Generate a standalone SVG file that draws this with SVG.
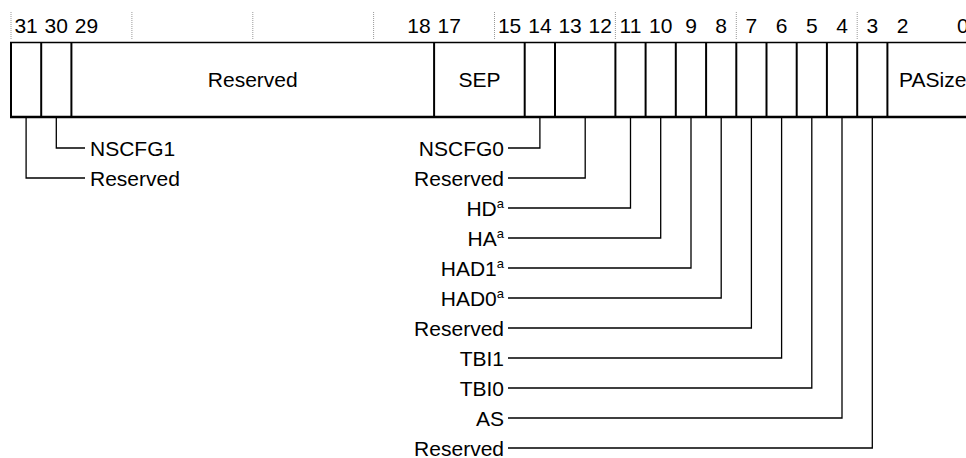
<svg xmlns="http://www.w3.org/2000/svg" width="966" height="458" viewBox="0 0 966 458">
<style>
text{font-family:"Liberation Sans",Arial,Helvetica,sans-serif;font-size:21px;fill:#000}
.c{text-anchor:middle}
.e{text-anchor:end}
.sup{font-size:13px}
.tick{stroke:#999;stroke-width:1;stroke-dasharray:1 1;fill:none}
.div{stroke:#000;stroke-width:2;fill:none}
.conn{stroke:#000;stroke-width:1.3;fill:none}
</style>
<rect width="966" height="458" fill="#fff"/>
<g id="ticks">
<line class="tick" x1="11" y1="12" x2="11" y2="40"/>
<line class="tick" x1="131.9" y1="12" x2="131.9" y2="40"/>
<line class="tick" x1="252.8" y1="12" x2="252.8" y2="40"/>
<line class="tick" x1="373.6" y1="12" x2="373.6" y2="40"/>
<line class="tick" x1="494.5" y1="12" x2="494.5" y2="40"/>
<line class="tick" x1="615.4" y1="12" x2="615.4" y2="40"/>
<line class="tick" x1="736.3" y1="12" x2="736.3" y2="40"/>
<line class="tick" x1="857.2" y1="12" x2="857.2" y2="40"/>
</g>
<g id="bit-numbers">
<text class="c" x="26.1" y="33">31</text>
<text class="c" x="56.3" y="33">30</text>
<text class="c" x="86.5" y="33">29</text>
<text class="c" x="419" y="33">18</text>
<text class="c" x="449.2" y="33">17</text>
<text class="c" x="509.6" y="33">15</text>
<text class="c" x="539.9" y="33">14</text>
<text class="c" x="570.1" y="33">13</text>
<text class="c" x="600.3" y="33">12</text>
<text class="c" x="630.5" y="33">11</text>
<text class="c" x="660.7" y="33">10</text>
<text class="c" x="691" y="33">9</text>
<text class="c" x="721.2" y="33">8</text>
<text class="c" x="751.4" y="33">7</text>
<text class="c" x="781.6" y="33">6</text>
<text class="c" x="811.8" y="33">5</text>
<text class="c" x="842" y="33">4</text>
<text class="c" x="872.3" y="33">3</text>
<text class="c" x="902.5" y="33">2</text>
<text class="c" x="962.9" y="33">0</text>
</g>
<g id="register">
<line x1="10" y1="42.5" x2="980" y2="42.5" stroke="#000" stroke-width="1.6"/>
<line x1="10" y1="117" x2="980" y2="117" stroke="#000" stroke-width="2.6"/>
<g id="f31"><line class="div" x1="11" y1="42" x2="11" y2="117"/></g>
<g id="f30"><line class="div" x1="41.2" y1="42" x2="41.2" y2="117"/></g>
<g id="f29-18"><line class="div" x1="71.4" y1="42" x2="71.4" y2="117"/><text class="c" x="252.8" y="87">Reserved</text></g>
<g id="f17-15"><line class="div" x1="434.1" y1="42" x2="434.1" y2="117"/><text class="c" x="479.4" y="87">SEP</text></g>
<g id="f14"><line class="div" x1="524.7" y1="42" x2="524.7" y2="117"/></g>
<g id="f13-12"><line class="div" x1="555" y1="42" x2="555" y2="117"/></g>
<g id="f11"><line class="div" x1="615.4" y1="42" x2="615.4" y2="117"/></g>
<g id="f10"><line class="div" x1="645.6" y1="42" x2="645.6" y2="117"/></g>
<g id="f9"><line class="div" x1="675.8" y1="42" x2="675.8" y2="117"/></g>
<g id="f8"><line class="div" x1="706.1" y1="42" x2="706.1" y2="117"/></g>
<g id="f7"><line class="div" x1="736.3" y1="42" x2="736.3" y2="117"/></g>
<g id="f6"><line class="div" x1="766.5" y1="42" x2="766.5" y2="117"/></g>
<g id="f5"><line class="div" x1="796.7" y1="42" x2="796.7" y2="117"/></g>
<g id="f4"><line class="div" x1="826.9" y1="42" x2="826.9" y2="117"/></g>
<g id="f3"><line class="div" x1="857.2" y1="42" x2="857.2" y2="117"/></g>
<g id="f2-0"><line class="div" x1="887.4" y1="42" x2="887.4" y2="117"/><text class="c" x="932.7" y="87">PASize</text><line class="div" x1="978" y1="42" x2="978" y2="117"/></g>
</g>
<g id="connectors">
<polyline class="conn" points="26.1,118 26.1,178 85,178"/>
<polyline class="conn" points="56.3,118 56.3,148 85,148"/>
<polyline class="conn" points="508,148 539.9,148 539.9,118"/>
<polyline class="conn" points="508,178 585.2,178 585.2,118"/>
<polyline class="conn" points="508,208 630.5,208 630.5,118"/>
<polyline class="conn" points="508,238 660.7,238 660.7,118"/>
<polyline class="conn" points="508,268 691,268 691,118"/>
<polyline class="conn" points="508,298 721.2,298 721.2,118"/>
<polyline class="conn" points="508,328 751.4,328 751.4,118"/>
<polyline class="conn" points="508,358 781.6,358 781.6,118"/>
<polyline class="conn" points="508,388 811.8,388 811.8,118"/>
<polyline class="conn" points="508,418 842,418 842,118"/>
<polyline class="conn" points="508,448 872.3,448 872.3,118"/>
</g>
<g id="labels">
<g id="l-nscfg1"><text x="90" y="155.5">NSCFG1</text></g>
<g id="l-res31"><text x="90" y="185.5">Reserved</text></g>
<g id="l-nscfg0"><text class="e" x="504" y="155.5">NSCFG0</text></g>
<g id="l-res13"><text class="e" x="504" y="185.5">Reserved</text></g>
<g id="l-hd"><text class="e" x="504" y="215.5">HD<tspan class="sup" dy="-8">a</tspan></text></g>
<g id="l-ha"><text class="e" x="504" y="245.5">HA<tspan class="sup" dy="-8">a</tspan></text></g>
<g id="l-had1"><text class="e" x="504" y="275.5">HAD1<tspan class="sup" dy="-8">a</tspan></text></g>
<g id="l-had0"><text class="e" x="504" y="305.5">HAD0<tspan class="sup" dy="-8">a</tspan></text></g>
<g id="l-res7"><text class="e" x="504" y="335.5">Reserved</text></g>
<g id="l-tbi1"><text class="e" x="504" y="365.5">TBI1</text></g>
<g id="l-tbi0"><text class="e" x="504" y="395.5">TBI0</text></g>
<g id="l-as"><text class="e" x="504" y="425.5">AS</text></g>
<g id="l-res3"><text class="e" x="504" y="455.5">Reserved</text></g>
</g>
</svg>
